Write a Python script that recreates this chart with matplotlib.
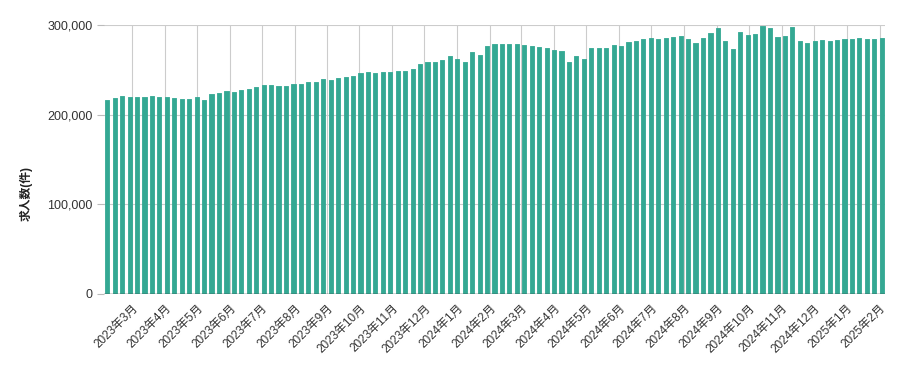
import matplotlib
matplotlib.use("Agg")
import matplotlib.pyplot as plt
import matplotlib.dates as mdates
import pandas as pd
import numpy as np

plt.rcParams['font.family'] = ['Liberation Sans', 'Noto Sans CJK JP', 'DejaVu Sans']

# weekly observation dates (Mondays)
start_date = "2023-02-06"
n_weeks = 105

# job openings count (件)
job_counts = [
    216300, 218500, 220700, 219600, 219600, 219600, 220700, 219600, 219600, 218500,
    217400, 217400, 219600, 216000, 223000, 224000, 226000, 225000, 227400, 228500,
    230800, 233000, 232600, 231900, 231900, 234000, 234000, 236300, 236300, 239700,
    238600, 240800, 242000, 243000, 246400, 247500, 246400, 247500, 247500, 248600,
    248600, 250800, 256400, 258600, 258600, 260900, 265300, 262000, 258600, 269800,
    266400, 276500, 278700, 278700, 278700, 278700, 277600, 276500, 275400, 274200,
    272000, 270900, 258600, 265300, 262000, 274200, 274200, 274200, 277600, 276500,
    280900, 282000, 284300, 285400, 284300, 285400, 286500, 287600, 284300, 279800,
    285400, 291000, 296500, 282000, 273000, 292000, 288700, 289900, 298800, 296500,
    286500, 287600, 297700, 282000, 279800, 282000, 283200, 282000, 283200, 284300,
    284300, 285400, 284300, 284300, 285400,
]

month_starts = [
    "2023-03-01", "2023-04-01", "2023-05-01", "2023-06-01", "2023-07-01", "2023-08-01",
    "2023-09-01", "2023-10-01", "2023-11-01", "2023-12-01", "2024-01-01", "2024-02-01",
    "2024-03-01", "2024-04-01", "2024-05-01", "2024-06-01", "2024-07-01", "2024-08-01",
    "2024-09-01", "2024-10-01", "2024-11-01", "2024-12-01", "2025-01-01", "2025-02-01",
]
month_labels = [
    "2023年3月", "2023年4月", "2023年5月", "2023年6月", "2023年7月", "2023年8月",
    "2023年9月", "2023年10月", "2023年11月", "2023年12月", "2024年1月", "2024年2月",
    "2024年3月", "2024年4月", "2024年5月", "2024年6月", "2024年7月", "2024年8月",
    "2024年9月", "2024年10月", "2024年11月", "2024年12月", "2025年1月", "2025年2月",
]
y_ticks = [0, 100000, 200000, 300000]
y_label = "求人数(件)"

dates = pd.date_range(start_date, periods=n_weeks, freq="7D")
x = mdates.date2num(dates.to_pydatetime())
ticks = mdates.date2num(pd.to_datetime(month_starts).to_pydatetime())

fig = plt.figure(figsize=(9.05, 3.71), dpi=100)
ax = fig.add_axes([104 / 905, 1 - 294 / 371, (885 - 104) / 905, (294 - 25) / 371])

bar_color = "#34a893"
ax.bar(x, job_counts, width=3.9, color=bar_color, linewidth=0.6, edgecolor=bar_color,
       joinstyle="round", zorder=2)

ax.set_ylim(0, 300000)
ax.set_xlim(x[0] - 3.1, x[-1] + 3.1)

ax.set_yticks(y_ticks)
ax.set_yticklabels([f"{v:,}" for v in y_ticks], fontsize=9, color="#333333")
ax.set_xticks(ticks)
ax.set_xticklabels(month_labels, rotation=45, ha="right", va="top",
                   rotation_mode="anchor", fontsize=8.5, color="#333333")

ax.tick_params(axis="x", length=0, pad=6)
ax.tick_params(axis="y", length=5, color="#bbbbbb", pad=3)

for s in ax.spines.values():
    s.set_visible(False)

ax.grid(True, axis="both", color="#cccccc", linewidth=0.8, zorder=0)
ax.set_axisbelow(True)
ax.axhline(0, color="#333333", linewidth=1.0, zorder=3)

ax.set_ylabel(y_label, fontsize=8.5, fontweight="bold", color="#222222")
ax.yaxis.set_label_coords(-0.091, 0.375)

fig.savefig("out.png", dpi=100)
